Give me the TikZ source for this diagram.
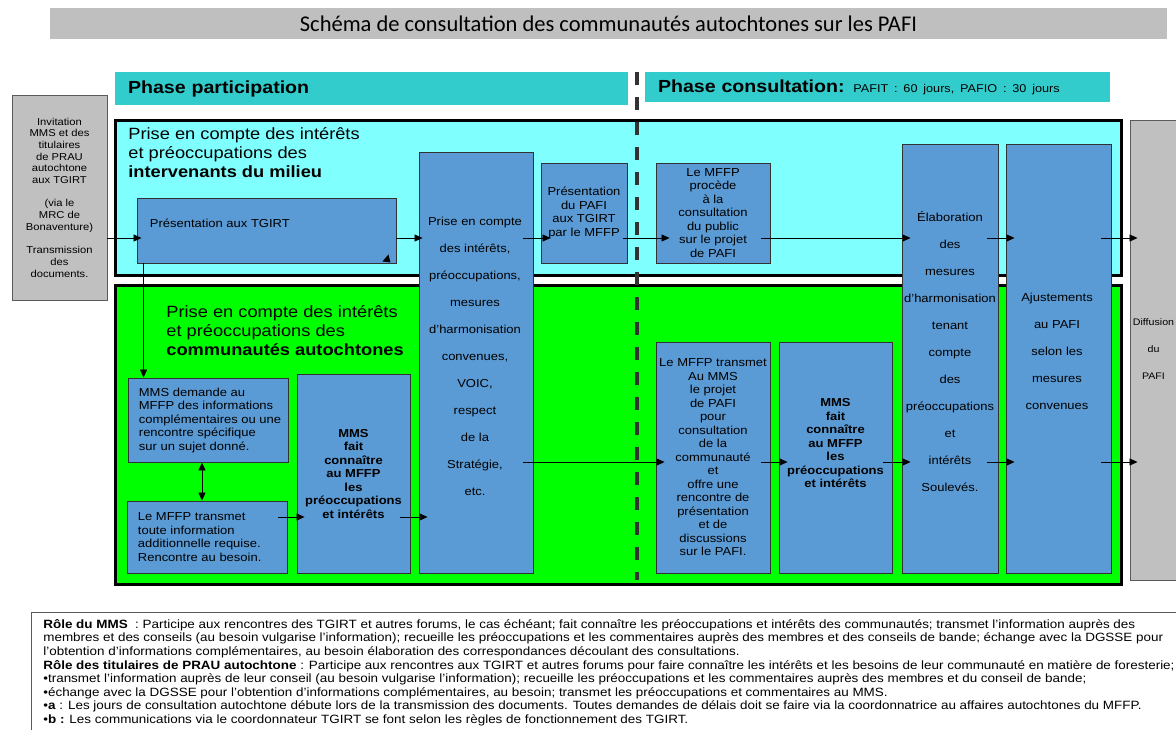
\documentclass[tikz,border=0pt]{standalone}
\usepackage{fontspec}
\setmainfont{Liberation Sans}[FakeStretch=1.12]
\newfontfamily\titlefont{Carlito}
\usetikzlibrary{arrows.meta,positioning}
\definecolor{titlegrey}{RGB}{191,191,191}
\definecolor{barteal}{RGB}{51,204,204}
\definecolor{zonecyan}{RGB}{128,255,255}
\definecolor{zonegreen}{RGB}{0,255,0}
\definecolor{boxblue}{RGB}{91,155,213}
\definecolor{boxgrey}{RGB}{192,192,192}
\definecolor{edgegrey}{RGB}{50,50,50}
\tikzset{every picture/.style={line width=0.75pt}}
\tikzset{
bluebox/.style={draw=edgegrey, fill=boxblue, line width=0.9pt, inner sep=0pt, align=center, font=\fontsize{11.6}{13.5}\selectfont},
greybox/.style={draw=edgegrey!80, fill=boxgrey, line width=0.9pt, inner sep=0pt, align=center},
zone/.style={draw=black, line width=3pt},
phasebar/.style={fill=barteal, inner xsep=13pt, inner ysep=0pt, align=left, font=\fontsize{17.5}{20}\selectfont\bfseries},
btext/.style={inner sep=0pt, align=center, font=\fontsize{11.6}{13.5}\selectfont},
wide/.style={font=\fontsize{11.6}{27}\selectfont},
heading/.style={inner sep=0pt, align=left, anchor=west, font=\fontsize{16.3}{19}\selectfont},
link/.style={-{Triangle[length=8pt,width=7pt]}, line width=0.8pt},
dlink/.style={{Triangle[length=8pt,width=7pt]}-{Triangle[length=8pt,width=7pt]}, line width=0.8pt}
}

\begin{document}
\begin{tikzpicture}[x=1pt,y=1pt,yscale=-1]
\useasboundingbox (0,0) rectangle (1176,729);
\clip (0,0) rectangle (1176,729);

% Title
\node[fill=titlegrey, minimum width=1117pt, minimum height=31pt, inner sep=0pt, font=\titlefont\fontsize{22.5}{26}\selectfont] (title) at (608.5,23.5) {Schéma de consultation des communautés autochtones sur les PAFI};

% Phases
\node[phasebar, text width=487pt, minimum height=33pt] (phasep) at (371.5,88.5) {Phase participation};
\node[phasebar, text width=439pt, minimum height=30pt] (phasec) at (877.5,87) {Phase consultation: {\fontsize{11.3}{13}\selectfont\mdseries PAFIT : 60 jours, PAFIO : 30 jours}};

% Zones
\node[zone, fill=zonecyan, minimum width=1006pt, minimum height=155pt] (zonea) at (618,197.5) {};
\node[zone, fill=zonegreen, minimum width=1006pt, minimum height=299pt] (zoneb) at (618,434.5) {};
\node[heading] (heada) at (128,153) {Prise en compte des intérêts\\et préoccupations des\\\textbf{intervenants du milieu}};
\node[heading] (headb) at (166,331) {Prise en compte des intérêts\\et préoccupations des\\\textbf{communautés autochtones}};

% Divider
\draw[line width=4pt, draw=edgegrey, dash pattern=on 13pt off 12pt] (637,72) -- (637,580);

% Grey boxes
\node[greybox, minimum width=95pt, minimum height=205pt, font=\fontsize{10}{11.7}\selectfont] (invit) at (59.5,197.5) {Invitation\\MMS et des\\titulaires\\de PRAU\\autochtone\\aux TGIRT\\[11.7pt](via le\\MRC de\\Bonaventure)\\[11.7pt]Transmission\\des\\documents.};
\node[greybox, minimum width=50pt, minimum height=460pt] (diffu) at (1155,350) {};
\node[btext, font=\fontsize{9.5}{27}\selectfont] (diffutxt) at (1153.5,349) {Diffusion\\du\\PAFI};

% Blue boxes, top row
\node[bluebox, minimum width=259pt, minimum height=65pt] (pres) at (266.5,230.5) {};
\node[btext, anchor=west] (prestxt) at ([shift={(13,-7)}]pres.west) {Présentation aux TGIRT};
\node[bluebox, minimum width=114pt, minimum height=421pt] (prise) at (476,362.5) {};
\node[btext, wide] (prisetxt) at (475,356) {Prise en compte\\des intérêts,\\préoccupations,\\mesures\\d’harmonisation\\convenues,\\VOIC,\\respect\\de la\\Stratégie,\\etc.};
\node[bluebox, minimum width=86pt, minimum height=100pt] (pafi) at (584,213) {Présentation\\du PAFI\\aux TGIRT\\par le MFFP};
\node[bluebox, minimum width=114pt, minimum height=100pt] (public) at (713,213) {Le MFFP\\procède\\à la\\consultation\\du public\\sur le projet\\de PAFI};
\node[bluebox, minimum width=96pt, minimum height=429pt] (elab) at (950,358.5) {};
\node[btext, wide] (elabtxt) at (950,352) {Élaboration\\des\\mesures\\d’harmonisation\\tenant\\compte\\des\\préoccupations\\et\\intérêts\\Soulevés.};
\node[bluebox, minimum width=105pt, minimum height=429pt] (ajust) at (1058.5,358.5) {};
\node[btext, wide] (ajusttxt) at (1057,351) {Ajustements\\au PAFI\\selon les\\mesures\\convenues};

% Blue boxes, lower row
\node[bluebox, minimum width=160pt, minimum height=84pt] (mmsdem) at (208,420) {};
\node[btext, align=left, anchor=west] (mmsdemtxt) at ([xshift=11pt]mmsdem.west) {MMS demande au\\MFFP des informations\\complémentaires ou une\\rencontre spécifique\\sur un sujet donné.};
\node[bluebox, minimum width=160pt, minimum height=72pt] (mfftr) at (207,537) {};
\node[btext, align=left, anchor=west] (mfftrtxt) at ([xshift=11pt]mfftr.west) {Le MFFP transmet\\toute information\\additionnelle requise.\\Rencontre au besoin.};
\node[bluebox, minimum width=113pt, minimum height=199pt, font=\fontsize{11.6}{13.5}\selectfont\bfseries] (mmsfait) at (353.5,473.5) {MMS\\fait\\connaître\\au MFFP\\les\\préoccupations\\et intérêts};
\node[bluebox, minimum width=114pt, minimum height=231pt] (transm) at (713,457.5) {Le MFFP transmet\\Au MMS\\le projet\\de PAFI\\pour\\consultation\\de la\\communauté\\et\\offre une\\rencontre de\\présentation\\et de\\discussions\\sur le PAFI.};
\node[bluebox, minimum width=113pt, minimum height=231pt] (mmsfaitb) at (835.5,457.5) {};
\node[btext, font=\fontsize{11.6}{13.5}\selectfont\bfseries] (mmsfaitbtxt) at (835.5,443) {MMS\\fait\\connaître\\au MFFP\\les\\préoccupations\\et intérêts};

% stray tip in the corner of the first box
\fill ([shift={(-14,-2)}]pres.south east) -- ([shift={(-8,-9)}]pres.south east) -- ([shift={(-6,-1)}]pres.south east) -- cycle;

% Connectors
\coordinate (rowa) at (0,238);
\coordinate (rowb) at (0,462);
\coordinate (rowc) at (0,517);
\draw[link] (invit.east |- rowa) -- ([xshift=5pt]pres.west |- rowa);
\draw[link] (pres.east |- rowa) -- ([xshift=4pt]prise.west |- rowa);
\draw[link] ([xshift=-10pt]prise.east |- rowa) -- ([xshift=10pt]pafi.west |- rowa);
\draw[link] ([xshift=-4pt]pafi.east |- rowa) -- ([xshift=14pt]public.west |- rowa);
\draw[link] ([xshift=-9pt]public.east |- rowa) -- ([xshift=9pt]elab.west |- rowa);
\draw[link] ([xshift=-11pt]elab.east |- rowa) -- ([xshift=9pt]ajust.west |- rowa);
\draw[link] ([xshift=-10pt]ajust.east |- rowa) -- ([xshift=8pt]diffu.west |- rowa);
\draw[link] ([xshift=-10pt]prise.east |- rowb) -- ([xshift=9pt]transm.west |- rowb);
\draw[link] ([xshift=-9pt]transm.east |- rowb) -- ([xshift=9pt]mmsfaitb.west |- rowb);
\draw[link] ([xshift=-9pt]mmsfaitb.east |- rowb) -- ([xshift=9pt]elab.west |- rowb);
\draw[link] ([xshift=-11pt]elab.east |- rowb) -- ([xshift=9pt]ajust.west |- rowb);
\draw[link] ([xshift=-10pt]ajust.east |- rowb) -- ([xshift=8pt]diffu.west |- rowb);
\draw[link] ([xshift=-9pt]mfftr.east |- rowc) -- ([xshift=8pt]mmsfait.west |- rowc);
\draw[link] ([xshift=-10pt]mmsfait.east |- rowc) -- ([xshift=9pt]prise.west |- rowc);
\draw[link] ([xshift=7pt]pres.south west) -- ([xshift=7pt]pres.south west |- mmsdem.north);
\draw[dlink] ([xshift=-6pt]mmsdem.south) -- ([xshift=-6pt]mmsdem.south |- mfftr.north);

% Notes
\draw[draw=edgegrey!80, line width=0.9pt] (31,740) |- (1190,612);
\node[inner sep=0pt, anchor=north west, align=left, font=\fontsize{12}{13.6}\selectfont] (roles) at (43,619) {%
\textbf{Rôle du MMS}\ \ : Participe aux rencontres des TGIRT et autres forums, le cas échéant; fait connaître les préoccupations et intérêts des communautés; transmet l’information auprès des\\
membres et des conseils (au besoin vulgarise l’information); recueille les préoccupations et les commentaires auprès des membres et des conseils de bande; échange avec la DGSSE pour\\
l’obtention d’informations complémentaires, au besoin élaboration des correspondances découlant des consultations.\\
\textbf{Rôle des titulaires de PRAU autochtone} : Participe aux rencontres aux TGIRT et autres forums pour faire connaître les intérêts et les besoins de leur communauté en matière de foresterie;\\
•transmet l’information auprès de leur conseil (au besoin vulgarise l’information); recueille les préoccupations et les commentaires auprès des membres et du conseil de bande;\\
•échange avec la DGSSE pour l’obtention d’informations complémentaires, au besoin; transmet les préoccupations et commentaires au MMS.\\
•\textbf{a} : Les jours de consultation autochtone débute lors de la transmission des documents. Toutes demandes de délais doit se faire via la coordonnatrice au affaires autochtones du MFFP.\\
•\textbf{b :} Les communications via le coordonnateur TGIRT se font selon les règles de fonctionnement des TGIRT.};

\end{tikzpicture}
\end{document}
